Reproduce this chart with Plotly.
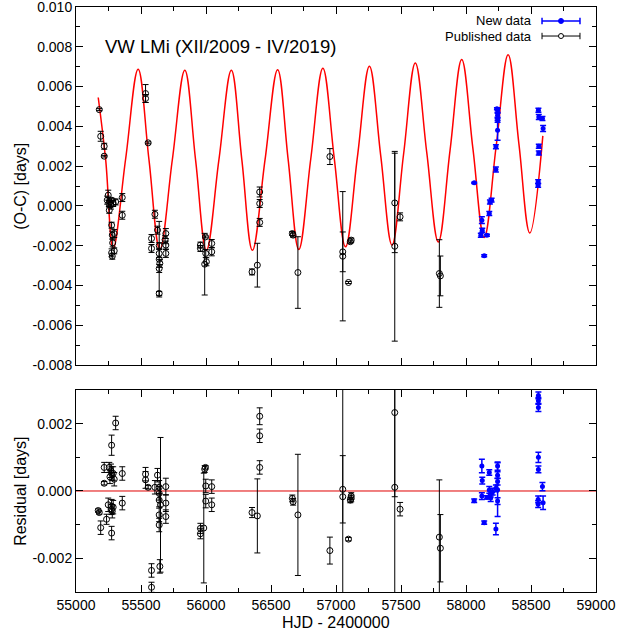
import plotly.graph_objects as go

# ---------------- O-C data (days) ----------------
# published minima: HJD-2400000, O-C, error
pub_t = [55179, 55190, 55217, 55217, 55240, 55248, 55253, 55261, 55256, 55269, 55274, 55286,
         55305, 55356, 55356, 55274, 55279, 55294, 55282, 55294, 55274, 55279,
         55535, 55535, 55555, 55607, 55627, 55581, 55581, 55640, 55640, 55640, 55640, 55645,
         55640, 55691, 55691, 55691, 55685,
         55957, 55957, 55996, 55998, 55990, 56003, 56044, 56044,
         56413, 56413, 56413, 56395, 56354,
         56664, 56670, 56707, 56953, 57052, 57052, 57096, 57117, 57110,
         57452, 57452, 57493, 57795, 57803]
pub_oc = [0.00484, 0.00350, 0.00300, 0.00250, 0.00029, 0.00054, 0.00012, 0.00020, -0.00022, 0.00004, 0.00029, 0.00012,
          0.00020, 0.00042, -0.00047, -0.00097, -0.00147, -0.00139, -0.00186, -0.00226, -0.00236, -0.00253,
          0.00565, 0.00540, 0.00317, -0.00042, -0.00122, -0.00164, -0.00214, -0.00268, -0.00440, -0.00239, -0.00315, -0.00289,
          -0.00200, -0.00139, -0.00197, -0.00239, -0.00170,
          -0.00197, -0.00214, -0.00156, -0.00239, -0.00293, -0.00281, -0.00189, -0.00231,
          0.00070, 0.00012, -0.00083, -0.00298, -0.00332,
          -0.00139, -0.00147, -0.00335, 0.00248, -0.00231, -0.00253, -0.00385, -0.00172, -0.00180,
          0.00015, -0.00203, -0.00055, -0.00340, -0.00352]
pub_err = [0.00005, 0.00025, 0.00015, 0.00004, 0.00020, 0.00025, 0.00015, 0.00020, 0.00015, 0.00020, 0.00010, 0.00015,
           0.00015, 0.00020, 0.00020, 0.00015, 0.00020, 0.00020, 0.00020, 0.00015, 0.00020, 0.00015,
           0.00045, 0.00020, 0.00005, 0.00020, 0.00020, 0.00020, 0.00020, 0.00190, 0.00010, 0.00020, 0.00020, 0.00020,
           0.00015, 0.00025, 0.00020, 0.00020, 0.00020,
           0.00015, 0.00015, 0.00005, 0.00020, 0.00155, 0.00020, 0.00020, 0.00020,
           0.00025, 0.00020, 0.00020, 0.00110, 0.00015,
           0.00010, 0.00010, 0.00180, 0.00040, 0.00100, 0.00325, 0.00005, 0.00010, 0.00008,
           0.00250, 0.00477, 0.00020, 0.00170, 0.00100]

# new minima
new_t = [58063, 58122, 58125, 58114, 58161, 58140, 58179, 58184, 58197, 58230, 58230,
         58243, 58243, 58243, 58243, 58238,
         58557, 58560, 58588, 58593, 58560, 58560, 58555, 58555]
new_oc = [0.00116, -0.00072, -0.00122, -0.00147, -0.00147, -0.00251, -0.00038, 0.00020, 0.00029, 0.00183, 0.00297,
          0.00380, 0.00431, 0.00456, 0.00481, 0.00489,
          0.00481, 0.00447, 0.00439, 0.00389, 0.00300, 0.00266, 0.00121, 0.00104]
new_err = [0.00003, 0.00017, 0.00010, 0.00010, 0.00005, 0.00005, 0.00010, 0.00010, 0.00010, 0.00012, 0.00010,
           0.00050, 0.00010, 0.00010, 0.00010, 0.00005,
           0.00010, 0.00012, 0.00010, 0.00015, 0.00010, 0.00010, 0.00010, 0.00010]

# fitted LITE curve: extrema and mid-level crossings
fit_t = [55171, 55228, 55286, 55382, 55478, 55561, 55645, 55741, 55837, 55920, 56003, 56099,
         56195, 56276, 56357, 56454, 56551, 56632, 56714, 56806, 56899, 56986, 57073, 57165,
         57257, 57344, 57431, 57520, 57610, 57698, 57787, 57877, 57967, 58053, 58140, 58232,
         58324, 58407, 58491, 58591]
fit_oc = [0.00545, 0.00234, -0.00214, 0.00237, 0.00687, 0.00234, -0.00219, 0.00232, 0.00682, 0.00230, -0.00223, 0.00230,
          0.00682, 0.00230, -0.00223, 0.00231, 0.00685, 0.00233, -0.00219, 0.00237, 0.00692, 0.00243, -0.00206, 0.00248,
          0.00702, 0.00253, -0.00197, 0.00261, 0.00719, 0.00269, -0.00181, 0.00278, 0.00736, 0.00289, -0.00159, 0.00300,
          0.00760, 0.00312, -0.00136, 0.00352]

# ---------------- residuals (days) ----------------
pub_rt = [55171, 55179, 55190, 55217, 55217, 55235, 55248, 55256, 55261, 55274, 55274, 55274, 55274, 55279,
          55286, 55269, 55274, 55286, 55294, 55305, 55356, 55356,
          55535, 55535, 55555, 55581, 55581, 55607, 55627, 55640, 55640, 55640, 55640, 55640, 55645, 55650,
          55691, 55691, 55691,
          55957, 55957, 55983, 55996, 55990, 55998, 55998, 56044, 56044,
          56354, 56395, 56413, 56413, 56413,
          56664, 56670, 56707, 56953, 57052, 57052, 57096, 57117, 57117, 57110,
          57452, 57452, 57493, 57795, 57803]
pub_res = [-0.00058, -0.00064, -0.00109, 0.00070, 0.00023, -0.00084, -0.00041, 0.00070, 0.00042, 0.00136, -0.00125, -0.00045, -0.00055, -0.00060,
           -0.00048, 0.00060, 0.00052, 0.00052, 0.00035, 0.00202, 0.00052, -0.00036,
           0.00050, 0.00033, 0.00011, -0.00236, -0.00286, 0.00011, 0.00047, 0.00011, -0.00007, -0.00027, -0.00071, -0.00101, -0.00224, -0.00041,
           0.00013, -0.00036, -0.00076,
           -0.00111, -0.00127, -0.00110, 0.00070, 0.00065, 0.00015, -0.00030, 0.00013, -0.00041,
           -0.00064, -0.00074, 0.00222, 0.00164, 0.00070,
           -0.00022, -0.00032, -0.00071, -0.00177, 0.00005, -0.00017, -0.00143, -0.00015, -0.00022, -0.00027,
           0.00233, 0.00011, -0.00054, -0.00137, -0.00170]
pub_rerr = [0.00005, 0.00005, 0.00020, 0.00015, 0.00005, 0.00015, 0.00020, 0.00015, 0.00020, 0.00030, 0.00020, 0.00020, 0.00015, 0.00020,
            0.00020, 0.00020, 0.00020, 0.00020, 0.00020, 0.00020, 0.00020, 0.00020,
            0.00020, 0.00025, 0.00005, 0.00020, 0.00015, 0.00020, 0.00020, 0.00020, 0.00020, 0.00020, 0.00020, 0.00020, 0.00020, 0.00200,
            0.00025, 0.00025, 0.00020,
            0.00015, 0.00015, 0.00163, 0.00005, 0.00010, 0.00020, 0.00020, 0.00020, 0.00020,
            0.00015, 0.00110, 0.00025, 0.00020, 0.00020,
            0.00010, 0.00010, 0.00180, 0.00040, 0.00100, 0.00325, 0.00005, 0.00010, 0.00010, 0.00008,
            0.00250, 0.00477, 0.00020, 0.00170, 0.00100]

new_rt = [58063, 58122, 58125, 58122, 58140, 58161, 58179, 58179, 58190, 58190, 58205, 58230, 58230,
          58243, 58243, 58243, 58243, 58243,
          58557, 58557, 58557, 58557, 58557, 58555, 58555, 58588, 58593]
new_res = [-0.00029, 0.00074, 0.00031, -0.00015, -0.00094, -0.00019, 0.00055, 0.00003, -0.00008, -0.00021, -0.00002, -0.00113, 0.00008,
           0.00074, 0.00047, 0.00028, 0.00004, -0.00030,
           0.00284, 0.00268, 0.00248, 0.00100, 0.00064, -0.00025, -0.00039, 0.00013, -0.00035]
new_rerr = [0.00005, 0.00020, 0.00010, 0.00010, 0.00005, 0.00005, 0.00008, 0.00010, 0.00010, 0.00010, 0.00010, 0.00017, 0.00010,
            0.00012, 0.00010, 0.00010, 0.00080, 0.00010,
            0.00010, 0.00010, 0.00012, 0.00015, 0.00010, 0.00010, 0.00010, 0.00012, 0.00020]

# ---------------- axis ticks ----------------
x_ticks = [55000, 55500, 56000, 56500, 57000, 57500, 58000, 58500, 59000]
x_labels = ["55000", "55500", "56000", "56500", "57000", "57500", "58000", "58500", "59000"]
oc_ticks = [-0.008, -0.006, -0.004, -0.002, 0.0, 0.002, 0.004, 0.006, 0.008, 0.010]
oc_labels = ["-0.008", "-0.006", "-0.004", "-0.002", "0.000", "0.002", "0.004", "0.006", "0.008", "0.010"]
res_ticks = [-0.002, 0.0, 0.002]
res_labels = ["-0.002", "0.000", "0.002"]

FONT = "Liberation Sans, Arial, Helvetica, sans-serif"
BLUE = "#0000ff"
EPS = 1e-7  # keeps the end ticks inside the axis range

fig = go.Figure()

# upper panel: O-C diagram
fig.add_trace(go.Scatter(x=fit_t, y=fit_oc, mode="lines", xaxis="x2", yaxis="y2",
                         line=dict(color="#ff0000", width=1.5, shape="spline", smoothing=1.1),
                         hoverinfo="skip"))
fig.add_trace(go.Scatter(x=pub_t, y=pub_oc, mode="markers", xaxis="x2", yaxis="y2",
                         marker=dict(symbol="circle-open", size=6, color="black", line=dict(width=1)),
                         error_y=dict(type="data", array=pub_err, color="black", thickness=1, width=3)))
fig.add_trace(go.Scatter(x=new_t, y=new_oc, mode="markers", xaxis="x2", yaxis="y2",
                         marker=dict(symbol="circle", size=5, color=BLUE),
                         error_y=dict(type="data", array=new_err, color=BLUE, thickness=1.5, width=3)))

# lower panel: residuals
fig.add_trace(go.Scatter(x=[55000, 59000], y=[0, 0], mode="lines", xaxis="x", yaxis="y",
                         line=dict(color="#e00000", width=1), hoverinfo="skip"))
fig.add_trace(go.Scatter(x=pub_rt, y=pub_res, mode="markers", xaxis="x", yaxis="y",
                         marker=dict(symbol="circle-open", size=6, color="black", line=dict(width=1)),
                         error_y=dict(type="data", array=pub_rerr, color="black", thickness=1, width=3)))
fig.add_trace(go.Scatter(x=new_rt, y=new_res, mode="markers", xaxis="x", yaxis="y",
                         marker=dict(symbol="circle", size=5, color=BLUE),
                         error_y=dict(type="data", array=new_rerr, color=BLUE, thickness=1.5, width=3)))

axis_common = dict(showline=True, linecolor="black", linewidth=1, mirror="allticks",
                   ticks="inside", ticklen=7, tickcolor="black", tickwidth=1,
                   showgrid=False, zeroline=False, ticklabeloverflow="allow", automargin=False,
                   tickfont=dict(family=FONT, size=14, color="black"))

fig.update_layout(
    width=622, height=637,
    margin=dict(l=76, r=26, t=7, b=45),
    paper_bgcolor="white", plot_bgcolor="white",
    showlegend=False,
    xaxis=dict(axis_common, domain=[0, 1], anchor="y", range=[55000 - 0.01, 59000 + 0.01],
               tickmode="array", tickvals=x_ticks, ticktext=x_labels,
               minor=dict(tick0=55000, dtick=250, ticks="inside", ticklen=4, tickcolor="black")),
    yaxis=dict(axis_common, domain=[0, 0.3453], anchor="x", range=[-0.003, 0.003],
               tickmode="array", tickvals=res_ticks, ticktext=res_labels,
               minor=dict(tick0=0, dtick=0.001, ticks="inside", ticklen=4, tickcolor="black")),
    xaxis2=dict(axis_common, domain=[0, 1], anchor="y2", range=[55000 - 0.01, 59000 + 0.01], matches="x",
                tickmode="array", tickvals=x_ticks, showticklabels=False,
                minor=dict(tick0=55000, dtick=250, ticks="inside", ticklen=4, tickcolor="black")),
    yaxis2=dict(axis_common, domain=[0.388, 1], anchor="x2", range=[-0.008 - EPS, 0.010 + EPS],
                tickmode="array", tickvals=oc_ticks, ticktext=oc_labels,
                minor=dict(tick0=0, dtick=0.001, ticks="inside", ticklen=4, tickcolor="black")),
)

ann_font = dict(family=FONT, color="black")
annotations = [
    dict(text="VW LMi (XII/2009 - IV/2019)", x=0.052, y=0.9333, xanchor="left", yanchor="middle",
         font=dict(ann_font, size=18.5)),
    dict(text="(O-C) [days]", x=-0.108, y=0.694, textangle=-90, xanchor="center", yanchor="middle",
         font=dict(ann_font, size=16)),
    dict(text="Residual [days]", x=-0.108, y=0.1726, textangle=-90, xanchor="center", yanchor="middle",
         font=dict(ann_font, size=16)),
    dict(text="HJD - 2400000", x=0.5, y=-0.0513, xanchor="center", yanchor="middle",
         font=dict(ann_font, size=16)),
    dict(text="New data", x=0.8808, y=0.9761, xanchor="right", yanchor="middle",
         font=dict(ann_font, size=13)),
    dict(text="Published data", x=0.8808, y=0.9504, xanchor="right", yanchor="middle",
         font=dict(ann_font, size=13)),
]
for a in annotations:
    a.update(xref="paper", yref="paper", showarrow=False)
fig.update_layout(annotations=annotations)

# key samples drawn in gnuplot style (horizontal bar with end caps and a symbol)
shapes = []
for yk, col, filled in [(0.9761, BLUE, True), (0.9504, "black", False)]:
    lw = 1.5 if filled else 1
    shapes.append(dict(type="line", xref="paper", yref="paper", x0=0.8962, x1=0.9692, y0=yk, y1=yk,
                       line=dict(color=col, width=lw)))
    for xc in (0.8962, 0.9692):
        shapes.append(dict(type="line", xref="paper", yref="paper", x0=xc, x1=xc,
                           y0=yk - 0.0055, y1=yk + 0.0055, line=dict(color=col, width=lw)))
    shapes.append(dict(type="circle", xref="paper", yref="paper", xsizemode="pixel", ysizemode="pixel",
                       xanchor=0.9327, yanchor=yk, x0=-2.5, x1=2.5, y0=-2.5, y1=2.5,
                       line=dict(color=col, width=1), fillcolor=col if filled else "white"))
fig.update_layout(shapes=shapes)

fig.write_html("out.html")
